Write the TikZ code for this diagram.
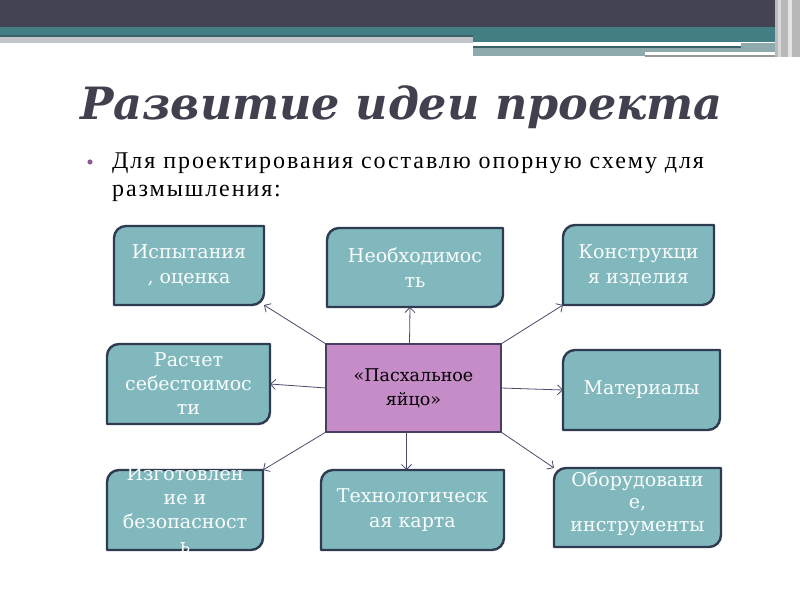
\documentclass[tikz,border=0pt]{standalone}
\usepackage{fontspec}
\setmainfont{Liberation Serif}
\newfontfamily\boxfont{DejaVu Serif}
\newfontfamily\titlefont{DejaVu Serif}
\newfontfamily\bodyfont{Liberation Serif}[LetterSpace=8]
\usetikzlibrary{arrows.meta,fit}
\definecolor{hdrdark}{HTML}{434354}
\definecolor{hdrteal}{HTML}{427E83}
\definecolor{hdrtealdk}{HTML}{3A6166}
\definecolor{hdrgrey}{HTML}{C3C6C8}
\definecolor{hdrmid}{HTML}{8FAAAD}
\definecolor{boxfill}{HTML}{80B8BD}
\definecolor{boxline}{HTML}{2E3B50}
\definecolor{cfill}{HTML}{C68CC8}
\definecolor{cline}{HTML}{4A3E5E}
\definecolor{arr}{HTML}{4D4A6C}
\definecolor{titlec}{HTML}{40404F}
\definecolor{bulletc}{HTML}{8C5C95}
\tikzset{
  anchorbox/.style={inner sep=0pt, outer sep=0pt},
  boxshape/.style={draw=boxline, fill=boxfill, line width=2.4pt, line join=round},
  boxtext/.style={align=center, text=white!97!boxfill, inner sep=0pt,
    font=\boxfont\fontsize{19}{25}\selectfont},
  conn/.style={draw=arr, line width=0.8pt, -{Straight Barb[length=5pt,width=10pt]}},
}
\newcommand\snipbox[7][]{%
  \node[anchorbox, fit={(#3,600-#4) (#5,600-#6)}] (#2) {};
  \draw[boxshape] (#2.south west) -- ([yshift=-12pt]#2.north west)
     arc[start angle=180, end angle=90, radius=12pt] -- (#2.north east)
     -- ([yshift=12pt]#2.south east)
     arc[start angle=0, end angle=-90, radius=12pt] -- cycle;
  \node[boxtext, #1] (#2-t) at (#2.center) {#7};
}
\begin{document}
\begin{tikzpicture}[x=1pt, y=1pt]
\useasboundingbox (0,0) rectangle (800,600);
% header
\fill[hdrteal] (0,573) rectangle (775,558);
\fill[hdrtealdk] (0,565) rectangle (473,563);
\fill[hdrgrey] (0,563) rectangle (473,557);
\fill[white] (0,557) rectangle (473,555);
\fill[white] (473,557) rectangle (741,554);
\fill[hdrtealdk] (473,554) rectangle (741,552);
\fill[hdrmid] (473,552) rectangle (785,544);
\fill[hdrmid] (741,557) rectangle (785,552);
\fill[white] (645,548) rectangle (785,545);
\fill[gray!80] (645,545) rectangle (785,543);
\fill[hdrdark] (0,600) rectangle (780,573);
\fill[gray!55] (775,600) rectangle (800,543);
\fill[gray!30] (778,600) rectangle (781,543);
\fill[gray!20] (788,600) rectangle (792,543);
% title
\node[anchor=base west, inner sep=0pt, text=titlec,
  font=\titlefont\bfseries\itshape\fontsize{44.5}{50}\selectfont] (title) at (80,480) {Развитие идеи проекта};
% bullet
\fill[bulletc] (90,438) circle (2.6);
\node[anchor=base west, inner sep=0pt, align=left,
  font=\bodyfont\fontsize{24}{28}\selectfont] (bul) at (112,403)
  {Для проектирования составлю опорную схему для\\размышления:};
% boxes
\snipbox{ispyt}{114}{226}{264}{305}{Испытания\\, оценка}
\snipbox{neob}{327}{228}{503}{307}{Необходимос\\ть}
\snipbox{konstr}{563}{225}{714}{305}{Конструкци\\я изделия}
\snipbox[font=\boxfont\fontsize{19}{24}\selectfont]{rasch}{107}{344}{270}{424}{Расчет\\себестоимос\\ти}
\snipbox{mat}{563}{350}{720}{430}{Материалы}
\snipbox[font=\boxfont\fontsize{19}{24}\selectfont]{izg}{107}{470}{263}{550}{Изготовлен\\ие и\\безопасност\\ь}
\snipbox{tech}{321}{470}{504}{550}{Технологическ\\ая карта}
\snipbox[font=\boxfont\fontsize{19}{22.5}\selectfont, yshift=4pt]{obor}{554}{468}{721}{547}{Оборудовани\\е,\\инструменты}
% center
\node[anchorbox, fit={(326,256) (501,168)}] (c) {};
\draw[draw=cline, fill=cfill, line width=2.4pt] (c.south west) rectangle (c.north east);
\node[align=center, inner sep=0pt, font=\boxfont\fontsize{17.5}{24}\selectfont] (c-t) at (c.center) {«Пасхальное\\яйцо»};
% connectors
\draw[conn] (c.north west) -- (ispyt.south east);
\draw[conn] ([xshift=-4pt]c.north) -- ([xshift=-5pt]neob.south);
\draw[conn] (c.north east) -- (konstr.south west);
\draw[conn] (c.west) -- (rasch.east);
\draw[conn] (c.east) -- (mat.west);
\draw[conn] (c.south west) -- (izg.north east);
\draw[conn] ([xshift=-7pt]c.south) -- ([xshift=-6pt]tech.north);
\draw[conn] (c.south east) -- (obor.north west);
\end{tikzpicture}
\end{document}
